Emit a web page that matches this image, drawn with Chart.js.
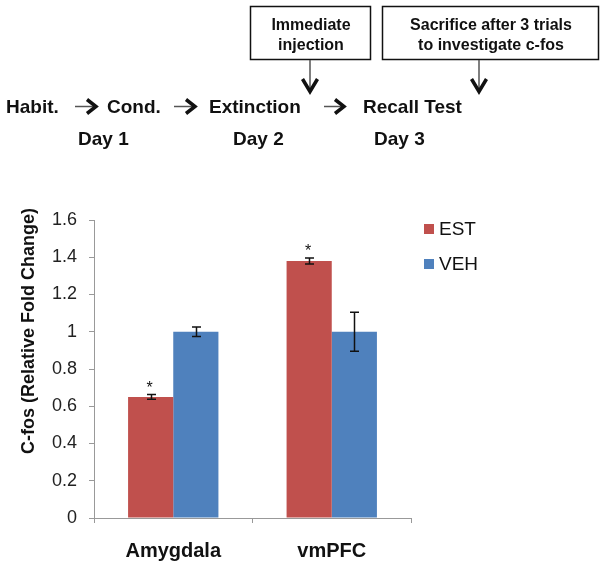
<!DOCTYPE html>
<html><head><meta charset="utf-8">
<script src="https://cdn.jsdelivr.net/npm/chart.js@4/dist/chart.umd.min.js"></script>
<style>
html,body{margin:0;padding:0;background:#fff;}
#wrap{position:relative;width:608px;height:569px;}
#c{position:absolute;left:0;top:0;}
#diag{position:absolute;left:0;top:0;}
</style></head>
<body>
<div id="wrap">
<canvas id="c" width="608" height="569"></canvas>
<svg id="diag" width="608" height="160" xmlns="http://www.w3.org/2000/svg" font-family="'Liberation Sans', Arial, sans-serif" font-weight="bold">
  <g fill="#111" font-size="19">
    <text x="6" y="113">Habit.</text>
    <text x="107" y="113">Cond.</text>
    <text x="209" y="113">Extinction</text>
    <text x="363" y="113">Recall Test</text>
    <text x="78" y="145">Day 1</text>
    <text x="233" y="145">Day 2</text>
    <text x="374" y="145">Day 3</text>
  </g>
  <g stroke="#111" fill="none">
    <rect x="250.5" y="6.5" width="120" height="53" stroke-width="1.5"/>
    <rect x="382.5" y="6.5" width="216" height="53" stroke-width="1.5"/>
  </g>
  <g fill="#111" font-size="16" text-anchor="middle">
    <text x="311" y="30">Immediate</text>
    <text x="311" y="50">injection</text>
    <text x="491" y="30">Sacrifice after 3 trials</text>
    <text x="491" y="50">to investigate c-fos</text>
  </g>
  <g stroke="#555" stroke-width="1.5">
    <line x1="310" y1="60" x2="310" y2="91"/>
    <line x1="479" y1="60" x2="479" y2="91"/>
    <line x1="75" y1="106.5" x2="95" y2="106.5"/>
    <line x1="174" y1="106.5" x2="194" y2="106.5"/>
    <line x1="324" y1="106.5" x2="343" y2="106.5"/>
  </g>
  <g stroke="#111" stroke-width="3.5" fill="none" stroke-linejoin="miter">
    <polyline points="302.5,79 310,91.5 317.5,79"/>
    <polyline points="471.5,79 479,91.5 486.5,79"/>
    <polyline points="87,99.5 96,106.5 87,113.5"/>
    <polyline points="186,99.5 195,106.5 186,113.5"/>
    <polyline points="335,99.5 344,106.5 335,113.5"/>
  </g>
</svg>
</div>
<script>
// ---- data ----
const categories = ["Amygdala", "vmPFC"];
const seriesNames = ["EST", "VEH"];
const estValues = [0.65, 1.38];
const vehValues = [1.0, 1.0];
const estErrors = [0.013, 0.016];
const vehErrors = [0.025, 0.105];
const estMarks = ["*", "*"];
const vehMarks = ["", ""];
const yTicks = [0, 0.2, 0.4, 0.6, 0.8, 1, 1.2, 1.4, 1.6];
const yTitle = "C-fos (Relative Fold Change)";

const colors = ["#C0504D", "#4F81BD"];
const errs = [estErrors, vehErrors];
const marks = [estMarks, vehMarks];

const FONT = "'Liberation Sans', Arial, sans-serif";

const extras = {
  id: 'extras',
  afterDatasetsDraw(chart) {
    const ctx = chart.ctx;
    const y = chart.scales.y;
    ctx.save();
    chart.data.datasets.forEach((ds, di) => {
      const meta = chart.getDatasetMeta(di);
      meta.data.forEach((bar, i) => {
        const v = ds.data[i], e = errs[di][i];
        const x = Math.round(bar.x) + 0.5;
        const yt = y.getPixelForValue(v + e), yb = y.getPixelForValue(v - e);
        ctx.strokeStyle = '#111';
        ctx.lineWidth = 1.5;
        ctx.beginPath();
        ctx.moveTo(x, yt); ctx.lineTo(x, yb);
        ctx.moveTo(x - 4.5, yt); ctx.lineTo(x + 4.5, yt);
        ctx.moveTo(x - 4.5, yb); ctx.lineTo(x + 4.5, yb);
        ctx.stroke();
        const m = marks[di][i];
        if (m) {
          ctx.fillStyle = '#111';
          ctx.font = '16px ' + FONT;
          ctx.textAlign = 'center';
          ctx.textBaseline = 'alphabetic';
          ctx.fillText(m, bar.x - 1, yt - 2);
        }
      });
    });
    // legend
    ctx.font = '19px ' + FONT;
    ctx.textAlign = 'left';
    ctx.textBaseline = 'middle';
    const ly = [229, 264];
    seriesNames.forEach((n, i) => {
      ctx.fillStyle = colors[i];
      ctx.fillRect(424, ly[i] - 5, 10, 10);
      ctx.fillStyle = '#111';
      ctx.fillText(n, 439, ly[i] + 1);
    });
    // y title
    ctx.save();
    ctx.translate(29, 331);
    ctx.rotate(-Math.PI / 2);
    ctx.font = 'bold 18px ' + FONT;
    ctx.textAlign = 'center';
    ctx.textBaseline = 'middle';
    ctx.fillStyle = '#111';
    ctx.fillText(yTitle, 0, 0);
    ctx.restore();
    ctx.restore();
  }
};

new Chart(document.getElementById('c'), {
  type: 'bar',
  data: {
    labels: categories,
    datasets: [
      { label: seriesNames[0], data: estValues, backgroundColor: colors[0] },
      { label: seriesNames[1], data: vehValues, backgroundColor: colors[1] }
    ]
  },
  options: {
    responsive: false,
    animation: false,
    devicePixelRatio: 1,
    layout: { padding: { top: 220, right: 197, left: 0, bottom: 0 } },
    datasets: { bar: { categoryPercentage: 0.57, barPercentage: 1.0 } },
    plugins: { legend: { display: false }, tooltip: { enabled: false } },
    scales: {
      x: {
        grid: { display: true, drawOnChartArea: false, drawTicks: true, tickLength: 5, color: '#999', offset: true },
        border: { color: '#999', width: 1 },
        ticks: { color: '#111', font: { family: FONT, size: 20, weight: 'bold' }, padding: 16 },
        afterFit(s) { s.height = 51; }
      },
      y: {
        min: 0, max: 1.6,
        afterBuildTicks(s) { s.ticks = yTicks.map(v => ({ value: v })); },
        grid: { display: true, drawOnChartArea: false, drawTicks: true, tickLength: 5, color: '#999' },
        border: { color: '#999', width: 1 },
        ticks: { color: '#222', font: { family: FONT, size: 18 }, padding: 12,
                 callback: v => String(v) },
        afterFit(s) { s.width = 94; }
      }
    }
  },
  plugins: [extras]
});
</script>
</body></html>
